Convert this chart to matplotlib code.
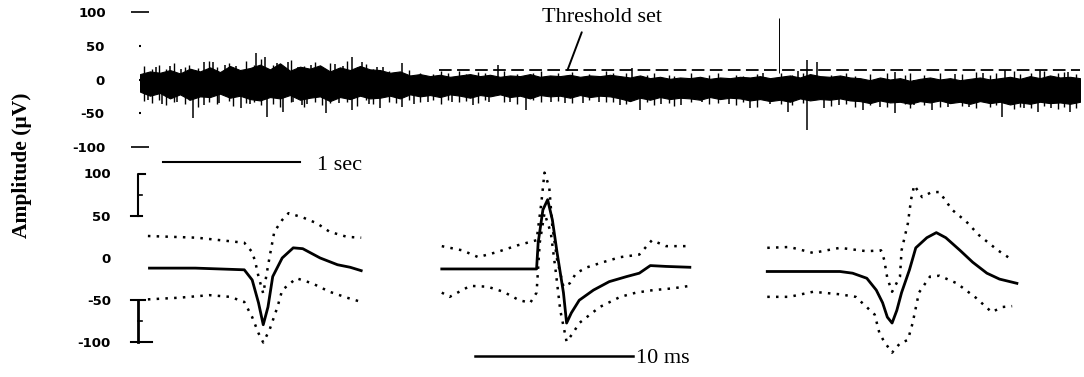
import numpy as np
import matplotlib
matplotlib.use("Agg")
import matplotlib.pyplot as plt

# ---------------- data ----------------
# raw recording (top trace), amplitude in uV, time in s
trace_duration_s = 6.86
env_upper = [8, 12, 10, 14, 9, 16, 12, 18, 11, 20, 14, 17, 22, 15, 24, 13, 19, 16, 21, 12, 18, 14, 20, 15,
             14, 10, 12, 6, 8, 5, 7, 4, 6, 8, 5, 7, 4, 6, 5, 8, 4, 6, 5, 7, 4, 6, 5, 7,
             5, 3, 6, 2, 4, 1, 3, 2, 4, 1, 3, 2, 4, 3, 5, 2, 4, 6, 3, 8, 5, 4, 6, 3,
             2, -1, 3, 0, 2, -2, 1, 3, 0, 2, -1, 1, 3, 0, 2, 4, 1, 5, 2, 6, 3, 4, 2]
env_lower = [-18, -24, -20, -28, -22, -30, -25, -26, -21, -27, -24, -29, -31, -26, -28, -23, -30, -27, -25, -32, -26, -29, -24, -28,
             -27, -24, -28, -22, -25, -23, -26, -22, -24, -27, -23, -25, -22, -26, -24, -28, -23, -25, -24, -27, -23, -26, -24, -25,
             -28, -32, -27, -30, -26, -29, -27, -28, -30, -26, -29, -27, -28, -31, -29, -32, -30, -33, -28, -31, -29, -30, -28, -31,
             -32, -35, -31, -34, -33, -36, -32, -34, -31, -35, -33, -36, -32, -35, -33, -37, -34, -36, -33, -35, -34, -36, -33]
# large spikes (time s, top uV, bottom uV)
spike_t = [0.06, 0.39, 0.47, 0.53, 0.74, 0.85, 0.91, 0.93, 1.04, 1.08, 1.18, 1.36, 1.55, 1.62, 1.73, 1.75,
           1.77, 1.91, 2.28, 2.43, 2.61, 2.82, 3.23, 3.50, 3.59, 3.65, 4.45, 4.73, 4.87, 4.94, 4.99, 5.28,
           5.51, 5.78, 6.29, 6.31, 6.55, 6.57, 6.77, 6.79,
           0.12, 0.22, 0.30, 0.62, 0.70, 1.00, 1.15, 1.25, 1.30, 1.42, 1.48,
           0.16, 0.27, 0.58, 0.80, 1.12, 1.22, 1.45, 1.67, 2.00, 2.10, 2.55, 2.70, 3.00, 3.10, 3.35,
           3.80, 3.95, 4.10, 4.30, 4.60, 5.10, 5.40, 5.65, 5.90, 6.05, 6.45, 6.65,
           4.55, 4.80, 5.95, 6.15]
spike_hi = [0, 0, 26, 26, 0, 39, 33, 0, 0, 26, 0, 0, 33, 26, 18, 0,
            18, 24, 0, 0, 21, 0, 0, 0, 17, 0, 0, 0, 29, 26, 0, 0,
            11, 0, 0, 14, 0, 14, 11, 0,
            18, 20, 16, 22, 20, 24, 19, 22, 18, 23, 20,
            0, 0, 0, 0, 0, 0, 0, 0, 0, 0, 0, 0, 0, 0, 0,
            0, 0, 0, 0, 0, 0, 0, 0, 0, 0, 0, 0,
            10, 12, 8, 10]
spike_lo = [-30, -57, -38, -10, -42, -10, -10, -55, -48, -10, -38, -50, -45, -10, -10, -42,
            0, -40, -33, -38, -10, -45, -35, -38, -10, -45, -42, -48, -75, -15, -42, -45,
            -50, -45, -55, -10, -48, -10, -10, -48,
            -5, -5, -5, -5, -5, -5, -5, -5, -5, -5, -5,
            -36, -34, -35, -36, -34, -37, -35, -36, -36, -33, -34, -34, -33, -35, -34,
            -36, -38, -34, -36, -37, -38, -40, -38, -40, -40, -42, -42,
            -5, -5, -10, -10]
# fine noise excursions (time s, top uV, bottom uV)
fine_spikes = [
    (0.03, 20, -32), (0.09, 16, -35), (0.14, 22, -30), (0.19, 15, -38), (0.25, 24, -33), (0.33, 18, -36),
    (0.36, 21, -31), (0.42, 17, -40), (0.50, 28, -34), (0.56, 19, -37), (0.65, 25, -32), (0.68, 16, -39),
    (0.77, 27, -35), (0.83, 21, -33), (0.88, 30, -38), (0.97, 22, -36), (1.02, 18, -40), (1.10, 29, -33),
    (1.20, 20, -41), (1.28, 26, -34), (1.33, 17, -38), (1.39, 24, -35), (1.51, 28, -33), (1.58, 19, -39),
    (1.65, 23, -31), (1.70, 15, -36),
    (1.82, 12, -33), (1.87, 9, -35), (1.96, 14, -30), (2.04, 10, -34), (2.14, 8, -31), (2.20, 12, -36),
    (2.25, 9, -30), (2.33, 13, -34), (2.38, 8, -32), (2.47, 11, -35), (2.52, 9, -31), (2.66, 12, -33),
    (2.75, 8, -36), (2.87, 10, -31), (2.93, 13, -34), (3.05, 9, -32), (3.15, 11, -35), (3.28, 8, -31),
    (3.40, 12, -34), (3.45, 9, -33),
    (3.55, 9, -36), (3.70, 6, -34), (3.75, 10, -38), (3.86, 7, -35), (3.90, 5, -39), (4.02, 9, -34),
    (4.15, 6, -37), (4.22, 10, -35), (4.35, 7, -38), (4.40, 5, -34), (4.50, 8, -40), (4.68, 9, -36),
    (4.76, 6, -38), (4.84, 10, -35), (5.04, 7, -39), (5.15, 9, -37), (5.22, 5, -41), (5.33, 8, -38),
    (5.45, 10, -40), (5.58, 6, -37), (5.62, 9, -42), (5.72, 7, -38), (5.84, 10, -41), (6.00, 8, -39),
    (6.10, 11, -42), (6.20, 7, -40), (6.25, 9, -38), (6.38, 12, -43), (6.42, 8, -40), (6.50, 10, -42),
    (6.60, 13, -39), (6.70, 9, -44), (6.74, 11, -41), (6.83, 8, -42),
]
threshold_uV = 14
threshold_start_s = 2.18
marker_t, marker_lo, marker_hi = 4.66, 10, 91

ytick_vals = [100, 50, 0, -50, -100]
ytick_labels = ["100", "50", "0", "-50", "-100"]

# averaged spike waveforms (ms, uV): mean (solid) and +/- band (dotted)
wave_offsets_ms = [0.5, 19.1, 39.7]
p1_solid_t = [0.1, 3.0, 6.1, 6.6, 7.0, 7.3, 7.6, 7.9, 8.5, 9.2, 9.8, 10.9, 12.0, 12.8, 13.5]
p1_solid_v = [-12, -12, -14, -26, -53, -79, -58, -22, 0, 12, 11, 0, -8, -11, -15]
p1_up_t = [0, 3.1, 6.1, 6.6, 6.8, 7.0, 7.3, 7.7, 8.0, 8.5, 8.9, 9.8, 10.7, 11.5, 12.6, 13.5]
p1_up_v = [26, 24, 18, 7, -5, -22, -42, 1, 31, 45, 53, 48, 41, 31, 25, 24]
p1_lo_t = [0, 2.0, 3.9, 5.2, 6.1, 6.6, 7.0, 7.3, 7.7, 8.2, 8.5, 9.4, 10.4, 11.5, 12.6, 13.5]
p1_lo_v = [-49, -47, -44, -46, -52, -70, -89, -100, -85, -58, -38, -24, -30, -40, -47, -52]

p2_solid_t = [0, 2.9, 6.0, 6.1, 6.4, 6.7, 7.0, 7.3, 7.7, 7.9, 8.2, 8.7, 9.6, 10.6, 11.7, 12.5, 13.2, 14.2, 15.7]
p2_solid_v = [-13, -13, -13, 18, 57, 69, 45, 6, -41, -77, -65, -50, -38, -28, -22, -18, -9, -10, -11]
p2_up_t = [0, 1.3, 2.3, 3.5, 4.8, 6.0, 6.3, 6.5, 6.8, 7.0, 7.3, 7.7, 8.1, 8.5, 9.2, 10.2, 11.3, 12.5, 13.3, 14.2, 15.7]
p2_up_v = [14, 9, 1, 7, 15, 21, 65, 101, 84, 37, -2, -34, -30, -18, -11, -5, 1, 4, 21, 14, 14]
p2_lo_t = [0, 0.5, 1.8, 2.9, 3.9, 4.9, 5.6, 6.0, 6.2, 6.5, 6.9, 7.2, 7.5, 7.9, 8.3, 8.7, 10.0, 11.3, 12.3, 13.4, 14.6, 15.7]
p2_lo_v = [-41, -46, -33, -34, -40, -50, -53, -41, 18, 53, 30, -14, -62, -99, -89, -77, -58, -46, -41, -38, -36, -33]

p3_solid_t = [0, 4.6, 5.4, 6.3, 6.9, 7.3, 7.6, 7.9, 8.2, 8.5, 9.0, 9.4, 10.1, 10.7, 11.3, 12.2, 13.0, 13.9, 14.7, 15.8]
p3_solid_v = [-16, -16, -18, -24, -38, -53, -70, -77, -62, -41, -14, 12, 24, 30, 24, 9, -5, -18, -25, -30]
p3_up_t = [0, 1.4, 2.9, 4.6, 6.3, 7.2, 7.4, 7.6, 7.9, 8.4, 8.5, 8.9, 9.1, 9.3, 9.8, 10.4, 10.9, 11.7, 12.6, 13.4, 14.6, 15.4]
p3_up_v = [12, 13, 6, 12, 8, 9, -2, -24, -40, -22, 9, 41, 69, 86, 72, 78, 78, 57, 43, 27, 9, -1]
p3_lo_t = [0, 1.4, 2.9, 4.6, 5.6, 6.0, 6.8, 7.1, 7.4, 7.9, 8.4, 8.9, 9.2, 9.6, 10.3, 10.9, 12.0, 13.2, 14.2, 14.9, 15.5]
p3_lo_v = [-46, -46, -40, -43, -46, -53, -67, -89, -99, -112, -101, -97, -77, -41, -22, -21, -30, -47, -64, -58, -57]

# ---------------- figure ----------------
W, H = 1084, 377
fig = plt.figure(figsize=(W / 100, H / 100), dpi=100)
fig.patch.set_facecolor("white")

serif = ["Liberation Serif", "DejaVu Serif"]
tick_font = dict(family="DejaVu Sans", weight="bold", size=9.5)

def px_axes(x0, x1, y_top, y_bot):
    return [x0 / W, 1 - y_bot / H, (x1 - x0) / W, (y_bot - y_top) / H]

# ---- bottom: averaged waveforms (created first so the top axes draws over it) ----
ax2 = fig.add_axes(px_axes(140, 1080, 160.8, 363.6))
ax2.patch.set_visible(False)
ax2.set_xlim(0, 940 / 15.8)
ax2.set_ylim(-125, 115)
waves = [(p1_solid_t, p1_solid_v, p1_up_t, p1_up_v, p1_lo_t, p1_lo_v),
         (p2_solid_t, p2_solid_v, p2_up_t, p2_up_v, p2_lo_t, p2_lo_v),
         (p3_solid_t, p3_solid_v, p3_up_t, p3_up_v, p3_lo_t, p3_lo_v)]
for off, (st, sv, ut, uv, lt, lv) in zip(wave_offsets_ms, waves):
    ax2.plot(np.array(st) + off, sv, color="black", lw=2.0, solid_joinstyle="round")
    ax2.plot(np.array(ut) + off, uv, color="black", lw=1.8, ls=(0, (1, 2.5)))
    ax2.plot(np.array(lt) + off, lv, color="black", lw=1.8, ls=(0, (1, 2.5)))

# amplitude scale brackets
bx = -0.15
ax2.plot([bx + 0.45, bx, bx], [99, 99, 50], color="black", lw=1.5, clip_on=False)
ax2.plot([bx - 0.4, bx + 0.3], [50, 50], color="black", lw=1.5, clip_on=False)
ax2.plot([bx, bx + 0.25], [75, 75], color="black", lw=1.2, clip_on=False)
ax2.plot([bx - 0.4, bx + 0.45], [-50, -50], color="black", lw=1.5, clip_on=False)
ax2.plot([bx, bx], [-50, -100], color="black", lw=2.0, clip_on=False)
ax2.plot([bx - 0.4, bx + 0.9], [-100, -100], color="black", lw=1.5, clip_on=False)
ax2.plot([bx, bx + 0.25], [-75, -75], color="black", lw=1.2, clip_on=False)

# 10 ms scale bar
ax2.plot([21.2, 31.2], [-116, -116], color="black", lw=1.8)
ax2.text(31.4, -119, "10 ms", ha="left", va="center", fontsize=16, family=serif)

for s in ax2.spines.values():
    s.set_visible(False)
ax2.set_xticks([])
ax2.set_yticks(ytick_vals, labels=ytick_labels, **tick_font)
ax2.tick_params(axis="y", length=0, pad=21)

# ---- top: raw trace ----
ax1 = fig.add_axes(px_axes(140, 1080, 12, 147))
ax1.patch.set_visible(False)
ax1.set_xlim(0, trace_duration_s)
ax1.set_ylim(-100, 100)
t_env = np.linspace(0, trace_duration_s, len(env_upper))
ax1.fill_between(t_env, env_lower, env_upper, color="black", lw=0.8, edgecolor="black")
ax1.vlines(spike_t, spike_lo, spike_hi, color="black", lw=1.1)
fs_t = [s[0] for s in fine_spikes]
fs_hi = [s[1] for s in fine_spikes]
fs_lo = [s[2] for s in fine_spikes]
ax1.vlines(fs_t, fs_lo, fs_hi, color="black", lw=1.0)
ax1.plot([threshold_start_s, trace_duration_s], [threshold_uV, threshold_uV],
         color="black", lw=1.3, ls=(0, (7, 3)))
ax1.vlines([marker_t], [marker_lo], [marker_hi], color="black", lw=0.7)
ax1.annotate("Threshold set", xy=(3.12, threshold_uV), xytext=(3.37, 92),
             ha="center", va="center", fontsize=16, family=serif,
             arrowprops=dict(arrowstyle="-", lw=1.4, color="black",
                             relpos=(0.35, 0.0), shrinkA=2, shrinkB=0))
# 1 s scale bar
ax1.plot([0.17, 1.17], [-122, -122], color="black", lw=1.5, clip_on=False)
ax1.text(1.29, -127, "1 sec", ha="left", va="center", fontsize=16, family=serif)

for s in ax1.spines.values():
    s.set_visible(False)
ax1.set_xticks([])
ax1.set_yticks([100, -100], labels=["100", "-100"], **tick_font)
ax1.set_yticks([50, 0, -50], labels=["50", "0", "-50"], minor=True, **tick_font)
ax1.tick_params(axis="y", which="major", direction="inout", length=13, width=1.2, pad=18)
ax1.tick_params(axis="y", which="minor", direction="inout", length=2, width=1.5, pad=24.5)

fig.text(22 / W, 1 - 165 / H, "Amplitude (\u00b5V)", rotation=90, ha="center", va="center",
         fontsize=15.5, family=serif, weight="bold")

fig.savefig("out.png", dpi=100, facecolor="white")
